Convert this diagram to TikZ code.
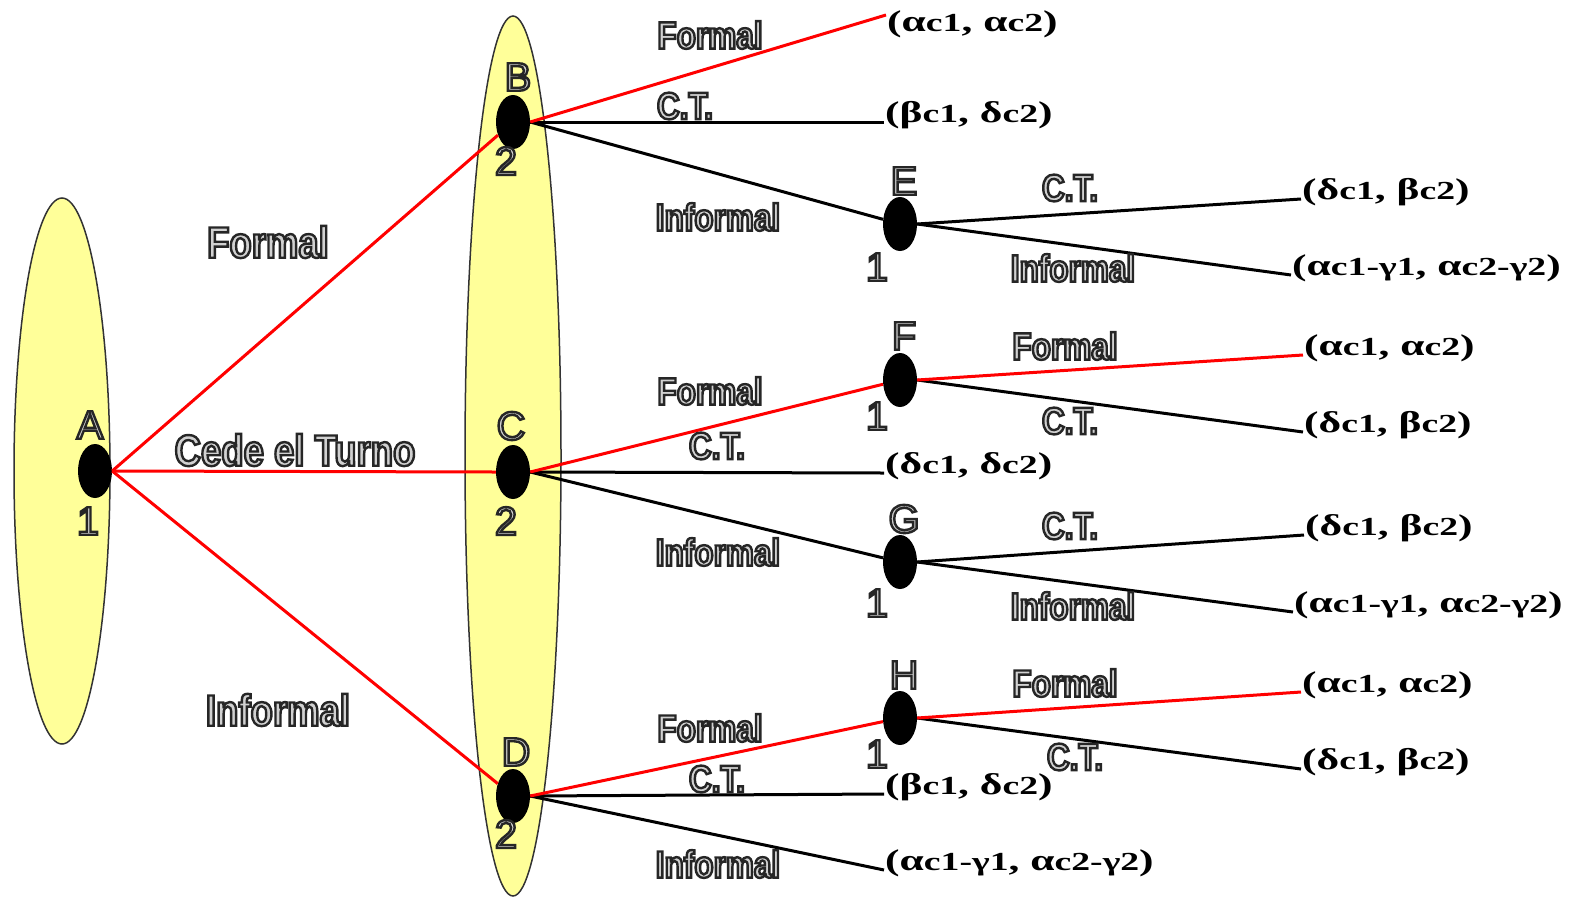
\documentclass[tikz,border=0pt]{standalone}
\usepackage{fontspec}
\usetikzlibrary{shapes.geometric}
\newfontfamily\labfont[FakeStretch=0.83]{Liberation Sans}
\newfontfamily\letfont{Liberation Sans}
\newfontfamily\payfont[FakeStretch=1.45]{Liberation Serif}
\definecolor{setyel}{HTML}{FFFF99}
\newcommand{\olt}[1]{\special{pdf:literal direct 2 Tr 2.4 w 0.15 0.15 0.15 RG 0.82 0.82 0.82 rg}#1\special{pdf:literal direct 0 Tr 0 0 0 RG 0 0 0 rg}}
\newcommand{\ps}[1]{{\fontsize{26}{30}\selectfont #1}}
\tikzset{
 dot/.style={ellipse, fill=black, minimum width=34pt, minimum height=54pt, inner sep=0pt},
 redl/.style={red, line width=3pt},
 blkl/.style={black, line width=3pt},
 elabbig/.style={font=\labfont\bfseries\fontsize{44}{50}\selectfont, inner sep=0pt},
 elab/.style={font=\labfont\bfseries\fontsize{38}{44}\selectfont, inner sep=0pt},
 nlab/.style={font=\letfont\fontsize{40}{46}\selectfont, inner sep=0pt},
 pay/.style={font=\payfont\bfseries\fontsize{30}{34}\selectfont, anchor=base west, inner sep=1pt},
 info/.style={ellipse, draw=black!80, line width=1.5pt, fill=setyel, inner sep=0pt}
}
\begin{document}
\begin{tikzpicture}[x=1pt,y=-1pt]
\useasboundingbox (0,0) rectangle (1580,898);
% information sets
\node[info, minimum width=96pt, minimum height=546pt] (I1) at (62,471) {};
\node[info, minimum width=96pt, minimum height=880pt] (I2) at (513,456) {};
% decision nodes
\node[dot] (A) at (95,471) {};
\node[dot] (B) at (513,122) {};
\node[dot] (C) at (513,472) {};
\node[dot] (D) at (513,796) {};
\node[dot] (E) at (900,224) {};
\node[dot] (F) at (900,380) {};
\node[dot] (G) at (900,562) {};
\node[dot] (H) at (900,718) {};
% node letters and players
\node[nlab] (lA) at (90,425) {\olt{A}};
\node[nlab] (nA) at (88,521) {\olt{1}};
\node[nlab] (lB) at (518,77) {\olt{B}};
\node[nlab] (nB) at (506,161) {\olt{2}};
\node[nlab] (lC) at (511,426) {\olt{C}};
\node[nlab] (nC) at (506,521) {\olt{2}};
\node[nlab] (lD) at (516,752) {\olt{D}};
\node[nlab] (nD) at (506,834) {\olt{2}};
\node[nlab] (lE) at (904,181) {\olt{E}};
\node[nlab] (nE) at (877,267) {\olt{1}};
\node[nlab] (lF) at (904,336) {\olt{F}};
\node[nlab] (nF) at (877,416) {\olt{1}};
\node[nlab] (lG) at (904,519) {\olt{G}};
\node[nlab] (nG) at (877,603) {\olt{1}};
\node[nlab] (lH) at (904,675) {\olt{H}};
\node[nlab] (nH) at (877,754) {\olt{1}};
% payoffs
\node[pay] (p1) at (886,31) {(α\ps{c1}, α\ps{c2})};
\node[pay] (p2) at (884,122) {(β\ps{c1}, δ\ps{c2})};
\node[pay] (p3) at (1301,199) {(δ\ps{c1}, β\ps{c2})};
\node[pay] (p4) at (1291,275) {(α\ps{c1-γ1}, α\ps{c2-γ2})};
\node[pay] (p5) at (1303,355) {(α\ps{c1}, α\ps{c2})};
\node[pay] (p6) at (1303,432) {(δ\ps{c1}, β\ps{c2})};
\node[pay] (p7) at (884,473) {(δ\ps{c1}, δ\ps{c2})};
\node[pay] (p8) at (1304,535) {(δ\ps{c1}, β\ps{c2})};
\node[pay] (p9) at (1293,612) {(α\ps{c1-γ1}, α\ps{c2-γ2})};
\node[pay] (p10) at (1301,692) {(α\ps{c1}, α\ps{c2})};
\node[pay] (p11) at (1301,769) {(δ\ps{c1}, β\ps{c2})};
\node[pay] (p12) at (884,794) {(β\ps{c1}, δ\ps{c2})};
\node[pay] (p13) at (884,870) {(α\ps{c1-γ1}, α\ps{c2-γ2})};
% edges from A
\draw[redl] (A.east) -- (B);
\draw[redl] (A.east) -- (C.west);
\draw[redl] (A.east) -- (D);
% edges from B
\draw[blkl] (B.east) -- (p2.base west);
\draw[blkl] (B.east) -- (E);
\draw[redl] (B.east) -- ([yshift=16pt]p1.base west);
% edges from E
\draw[blkl] (E.east) -- (p3.base west);
\draw[blkl] (E.east) -- (p4.base west);
% edges from C
\draw[blkl] (C.east) -- (p7.base west);
\draw[blkl] (C.east) -- (G);
\draw[redl] (C.east) -- (F);
% edges from F
\draw[blkl] (F.east) -- (p6.base west);
\draw[redl] (F.east) -- (p5.base west);
% edges from G
\draw[blkl] (G.east) -- (p8.base west);
\draw[blkl] (G.east) -- (p9.base west);
% edges from D
\draw[blkl] (D.east) -- (p12.base west);
\draw[blkl] (D.east) -- (p13.base west);
\draw[redl] (D.east) -- (H);
% edges from H
\draw[blkl] (H.east) -- (p11.base west);
\draw[redl] (H.east) -- (p10.base west);
% edge labels
\node[elabbig] (eAB) at (268,242) {\olt{Formal}};
\node[elabbig] (eAC) at (295,450) {\olt{Cede el Turno}};
\node[elabbig] (eAD) at (278,710) {\olt{Informal}};
\node[elab] (eB1) at (710,35) {\olt{Formal}};
\node[elab] (eB2) at (685,106) {\olt{C.T.}};
\node[elab] (eB3) at (718,217) {\olt{Informal}};
\node[elab] (eE1) at (1070,188) {\olt{C.T.}};
\node[elab] (eE2) at (1073,268) {\olt{Informal}};
\node[elab] (eC1) at (710,391) {\olt{Formal}};
\node[elab] (eC2) at (717,446) {\olt{C.T.}};
\node[elab] (eC3) at (718,552) {\olt{Informal}};
\node[elab] (eF1) at (1065,346) {\olt{Formal}};
\node[elab] (eF2) at (1070,421) {\olt{C.T.}};
\node[elab] (eG1) at (1070,526) {\olt{C.T.}};
\node[elab] (eG2) at (1073,606) {\olt{Informal}};
\node[elab] (eD1) at (710,728) {\olt{Formal}};
\node[elab] (eD2) at (717,779) {\olt{C.T.}};
\node[elab] (eD3) at (718,864) {\olt{Informal}};
\node[elab] (eH1) at (1065,683) {\olt{Formal}};
\node[elab] (eH2) at (1075,757) {\olt{C.T.}};
\end{tikzpicture}
\end{document}
